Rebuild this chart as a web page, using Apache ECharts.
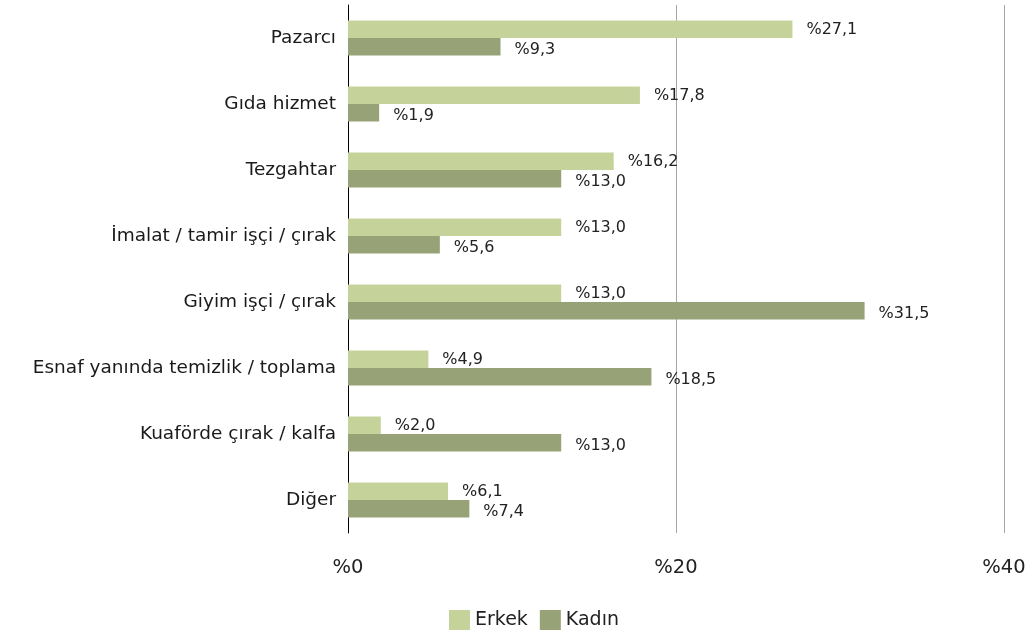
<!DOCTYPE html>
<html>
<head>
<meta charset="utf-8">
<script src="https://cdn.jsdelivr.net/npm/echarts@6/dist/echarts.min.js"></script>
<style>
  html, body { margin: 0; padding: 0; background: #fff; }
  #chart { width: 1035px; height: 634px; }
</style>
</head>
<body>
<div id="chart"></div>
<script>
var categories = ['Pazarcı', 'Gıda hizmet', 'Tezgahtar', 'İmalat / tamir işçi / çırak',
  'Giyim işçi / çırak', 'Esnaf yanında temizlik / toplama', 'Kuaförde çırak / kalfa', 'Diğer'];
var erkek = [27.1, 17.8, 16.2, 13.0, 13.0, 4.9, 2.0, 6.1];
var kadin = [9.3, 1.9, 13.0, 5.6, 31.5, 18.5, 13.0, 7.4];
var xTicks = [0, 20, 40];

var fontFamily = 'DejaVu Sans';

function pct(v) {
  return '%' + v.toFixed(1).replace('.', ',');
}

var chart = echarts.init(document.getElementById('chart'));
chart.setOption({
  animation: false,
  textStyle: { fontFamily: fontFamily },
  color: ['#c5d39b', '#97a376'],
  grid: {
    left: 348,
    right: 31,
    top: 5,
    bottom: 101
  },
  legend: {
    bottom: 4,
    left: 449,
    padding: 0,
    itemWidth: 21,
    itemHeight: 20,
    itemGap: 12,
    icon: 'rect',
    textStyle: { fontSize: 19, color: '#222', fontFamily: fontFamily },
    data: ['Erkek', 'Kadın']
  },
  xAxis: {
    type: 'value',
    min: xTicks[0],
    max: xTicks[xTicks.length - 1],
    interval: 20,
    axisLine: { show: false },
    axisTick: { show: false },
    splitLine: { show: true, lineStyle: { color: '#a6a6a6', width: 1 } },
    axisLabel: {
      margin: 25,
      fontSize: 19.5,
      color: '#222',
      formatter: function (v) { return '%' + v; }
    }
  },
  yAxis: {
    type: 'category',
    inverse: true,
    data: categories,
    axisLine: { show: true, lineStyle: { color: '#000', width: 1 } },
    axisTick: { show: false },
    axisLabel: { fontSize: 18.5, color: '#1a1a1a', margin: 12 }
  },
  series: [
    {
      name: 'Erkek',
      type: 'bar',
      data: erkek,
      barWidth: 17.5,
      barGap: '0%',
      label: {
        show: true,
        position: 'right',
        distance: 14,
        fontSize: 16,
        color: '#222',
        offset: [0, 1],
        formatter: function (p) { return pct(p.value); }
      }
    },
    {
      name: 'Kadın',
      type: 'bar',
      data: kadin,
      barWidth: 17.5,
      barGap: '0%',
      label: {
        show: true,
        position: 'right',
        distance: 14,
        fontSize: 16,
        color: '#222',
        offset: [0, 3],
        formatter: function (p) { return pct(p.value); }
      }
    }
  ]
});
</script>
</body>
</html>
